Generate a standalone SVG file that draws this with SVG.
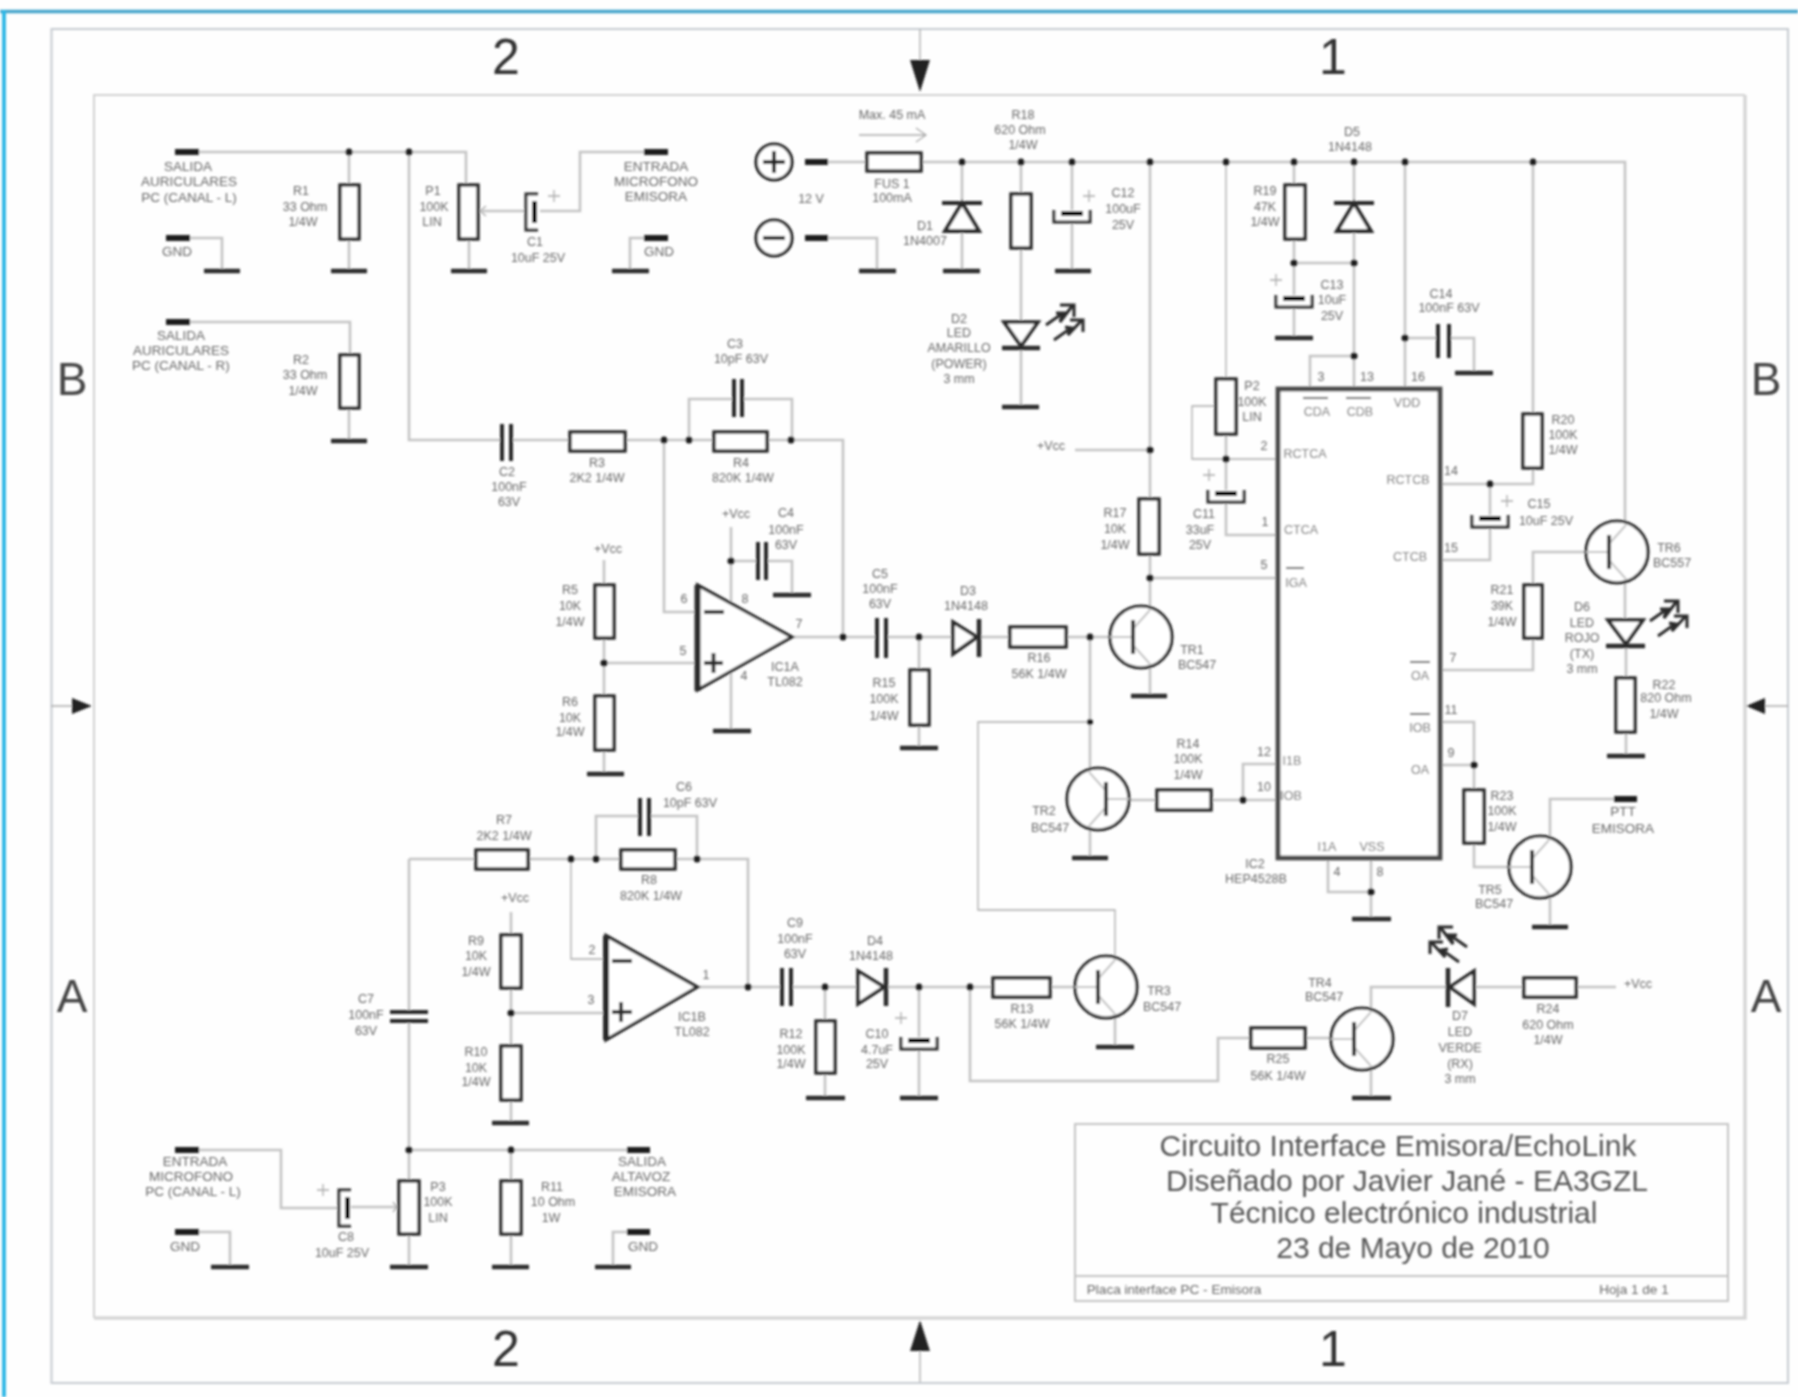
<svg xmlns="http://www.w3.org/2000/svg" width="1798" height="1397" viewBox="0 0 1798 1397">
<style>
text{font-family:"Liberation Sans",Arial,sans-serif;text-anchor:middle;dominant-baseline:central;fill:#666;font-size:12.5px}
.c{font-size:13.5px}
.big{font-size:50px;fill:#333}
.let{font-size:46px;fill:#444}
.ti{font-size:30px;fill:#555}
.f{font-size:13.6px}
.w{fill:none;stroke:#c4c4c4;stroke-width:2.6}
.wt{fill:none;stroke:#aaa;stroke-width:1.3}
.r{fill:#fff;stroke:#2a2a2a;stroke-width:3.4}
.g{fill:none;stroke:#2a2a2a;stroke-width:4.4}
.p{fill:none;stroke:#1a1a1a;stroke-width:6}
.s{fill:none;stroke:#2a2a2a;stroke-width:4}
.fr{fill:none;stroke:#c5cad0;stroke-width:2}
.d{fill:#1a1a1a}
.ah{fill:#222}
</style>
<defs>
<filter id="soft" filterUnits="userSpaceOnUse" x="0" y="0" width="1798" height="1397"><feGaussianBlur stdDeviation="0.85"/></filter>
<g id="q"><circle r="31" fill="#fff" stroke="#2a2a2a" stroke-width="3.2"/><path d="M-31 0H-8M-8 -8L9 -27M-8 8L9 27" fill="none" stroke="#c4c4c4" stroke-width="2"/><line x1="-8" y1="-17" x2="-8" y2="17" stroke="#2a2a2a" stroke-width="4"/></g>
<g id="ec"><path d="M-18 -6V6H18V-6" fill="#fff" stroke="#2a2a2a" stroke-width="3"/><rect x="-11" y="-5" width="22" height="5" fill="#111"/></g>
<g id="la"><path d="M0 21L17 9L10 9M17 9L14 18L27 1M14 1H28V13M8 36L25 24L19 23M25 24L22 31L36 16M24 16H37V28" fill="none" stroke="#2a2a2a" stroke-width="3"/></g>
<path id="dd" d="M-20 0H20M0 0L-17 28H17Z" fill="#fff" stroke="#2a2a2a" stroke-width="3.800"/>
</defs>
<rect width="1798" height="1397" fill="#fefefe"/>
<g filter="url(#soft)">
<g id="frame">
<path d="M0 11.500H1798" stroke="#45a5cc" stroke-width="3.500"/>
<path d="M4 10V1397" stroke="#2cb5e5" stroke-width="3.800"/>
<rect class="fr" x="51.500" y="29" width="1736.500" height="1354"/>
<path d="M94 1318V95H1745" fill="none" stroke="#d2d2d2" stroke-width="2"/>
<path d="M94 1318H1745V95" fill="none" stroke="#d6d6d6" stroke-width="3.500"/>
<text class="big" x="506" y="57">2</text><text class="big" x="1333" y="57">1</text>
<text class="big" x="506" y="1349">2</text><text class="big" x="1333" y="1349">1</text>
<text class="let" x="72" y="379">B</text><text class="let" x="1766" y="379">B</text>
<text class="let" x="72" y="996">A</text><text class="let" x="1766" y="996">A</text>
<path class="wt" d="M920 29V70M920 1340V1382M51 706H80M1756 706H1788"/>
<path class="ah" d="M910 60H930L920 92ZM910 1351H930L920 1320ZM72 698V714L92 706ZM1765 698V714L1746 706Z"/>
</g>
<g id="connectors">
<path class="w" d="M199 152H466V185M349 152V185M349 239V271M469 239V271M409 152V440H502M511 440H570M625 440H714M767 440H843V637H877M886 637H953M978 637H1010M1066 637H1109"/>
<path class="w" d="M482 211H527M540 211H580V152H644M190 238H222V271M644 238H630V271M190 322H350V355M349 408V441"/>
<path class="w" d="M689 440V399H734M742 399H792V440M664 440V612H697M604 663H697M604 560V585M604 638V696M604 750V774M731 527V603M731 672V731M731 561H757M765 561H792V595M792 637H843"/>
<path class="w" d="M828 162H867M921 162H1625V521M828 238H877V271M962 162V271M1021 162V194M1021 248V407M1072 162V271M1150 162V499M1075 450H1150M1150 554V612M1150 578H1277M1150 662V696M1294 162V185M1294 239V297M1294 307V338M1294 263H1354M1354 162V389M1354 356H1310V389M1405 162V389M1405 338H1438M1449 338H1474V373M1533 162V414M1533 468V484H1440M1490 484V516M1490 528V560H1440"/>
<path class="wt" d="M1226 162V379M1216 406H1192V459H1277"/>
<path class="w" d="M1226 434V492M1226 502V535H1277"/>
<path class="w" d="M1585 552H1533V585M1533 638V670H1440M1625 583V620M1626 646V678M1626 732V756"/>
<path class="w" d="M919 637V670M919 725V748"/>
<path class="wt" d="M1090 722H978V910H1115V956"/>
<path class="w" d="M1090 637V768M1090 830V858M1129 800H1157M1211 800H1277M1243 800V764H1277"/>
<path class="w" d="M1440 722H1474V790M1440 765H1474M1474 843V867H1510M1550 836V799H1614M1550 898V927M1328 858V892H1371M1371 858V919"/>
<path class="w" d="M409 859H476M528 859H621M675 859H748V987M596 859V816H640M649 816H697V859M409 859V1012M409 1021V1181M409 1234V1267M199 1150H281V1208H339M351 1207H396M409 1150H627"/>
<path class="wt" d="M571 859V959H606"/>
<path class="w" d="M511 912V935M511 988V1046M511 1013H606M511 1100V1123M511 1150V1181M511 1234V1267M199 1232H230V1267M627 1232H613V1267M698 987H782M791 987H858M886 987H993M825 987V1021M825 1073V1098M919 987V1038M919 1049V1098M1050 987H1075M970 987V1081H1218V1038H1251M1305 1038H1331M1371 1008V987H1448M1474 987H1524M1576 987H1616M1115 1018V1047M1371 1070V1098"/>
</g>
<g id="junctions">
<circle class="d" cx="349" cy="152" r="3.500"/><circle class="d" cx="409" cy="152" r="3.500"/><circle class="d" cx="664" cy="440" r="3.500"/><circle class="d" cx="689" cy="440" r="3.500"/><circle class="d" cx="791" cy="440" r="3.500"/><circle class="d" cx="843" cy="637" r="3.500"/><circle class="d" cx="731" cy="561" r="3.500"/><circle class="d" cx="604" cy="663" r="3.500"/><circle class="d" cx="919" cy="637" r="3.500"/><circle class="d" cx="1090" cy="637" r="3.500"/><circle class="d" cx="1090" cy="722" r="3"/>
<circle class="d" cx="962" cy="162" r="3.500"/><circle class="d" cx="1021" cy="162" r="3.500"/><circle class="d" cx="1072" cy="162" r="3.500"/><circle class="d" cx="1150" cy="162" r="3.500"/><circle class="d" cx="1226" cy="162" r="3.500"/><circle class="d" cx="1294" cy="162" r="3.500"/><circle class="d" cx="1354" cy="162" r="3.500"/><circle class="d" cx="1405" cy="162" r="3.500"/><circle class="d" cx="1533" cy="162" r="3.500"/>
<circle class="d" cx="1150" cy="450" r="3.500"/><circle class="d" cx="1150" cy="578" r="3.500"/><circle class="d" cx="1226" cy="459" r="3.500"/><circle class="d" cx="1294" cy="263" r="3.500"/><circle class="d" cx="1354" cy="263" r="3.500"/><circle class="d" cx="1354" cy="356" r="3.500"/><circle class="d" cx="1405" cy="338" r="3.500"/><circle class="d" cx="1490" cy="484" r="3.500"/><circle class="d" cx="1243" cy="800" r="3.500"/><circle class="d" cx="1474" cy="765" r="3.500"/><circle class="d" cx="1371" cy="892" r="3.500"/>
<circle class="d" cx="571" cy="859" r="3.500"/><circle class="d" cx="596" cy="859" r="3.500"/><circle class="d" cx="697" cy="859" r="3.500"/><circle class="d" cx="748" cy="987" r="3.500"/><circle class="d" cx="511" cy="1013" r="3.500"/><circle class="d" cx="409" cy="1150" r="3.500"/><circle class="d" cx="511" cy="1150" r="3.500"/><circle class="d" cx="825" cy="987" r="3.500"/><circle class="d" cx="919" cy="987" r="3.500"/><circle class="d" cx="970" cy="987" r="3.500"/>
</g>
<g id="grounds">
<path class="g" d="M204 271h36M331 271h36M451 271h36M612 271h37M331 441h36M773 595h38M713 731h38M587 774h37M859 271h37M943 271h37M1002 407h37M1055 271h36M1275 338h38M1455 373h38M1131 696h36M900 748h38M1607 756h38M1072 858h36M1352 919h39M1532 927h36M1096 1047h38M806 1098h39M900 1098h38M1352 1098h39M492 1123h37M211 1267h38M390 1267h38M492 1267h37M595 1267h36"/>
</g>
<g id="J1"><path class="p" d="M175 152h24"/><text class="c" x="188" y="166">SALIDA</text><text class="c" x="189" y="181">AURICULARES</text><text class="c" x="189" y="197">PC (CANAL - L)</text></g>
<g id="GND1"><path class="p" d="M166 238h24"/><text class="c" x="177" y="251">GND</text></g>
<g id="J2"><path class="p" d="M166 322h24"/><text class="c" x="181" y="335">SALIDA</text><text class="c" x="181" y="350">AURICULARES</text><text class="c" x="181" y="365">PC (CANAL - R)</text></g>
<g id="J3"><path class="p" d="M644 152h24"/><text class="c" x="656" y="166">ENTRADA</text><text class="c" x="656" y="181">MICROFONO</text><text class="c" x="656" y="196">EMISORA</text></g>
<g id="GND2"><path class="p" d="M644 238h24"/><text class="c" x="659" y="251">GND</text></g>
<g id="J4"><path class="p" d="M175 1150h24"/><text class="c" x="195" y="1161">ENTRADA</text><text class="c" x="191" y="1176">MICROFONO</text><text class="c" x="193" y="1191">PC (CANAL - L)</text></g>
<g id="GND3"><path class="p" d="M175 1232h24"/><text class="c" x="185" y="1246">GND</text></g>
<g id="J5"><path class="p" d="M627 1150h23"/><text class="c" x="642" y="1161">SALIDA</text><text class="c" x="641" y="1176">ALTAVOZ</text><text class="c" x="645" y="1191">EMISORA</text></g>
<g id="GND4"><path class="p" d="M627 1232h23"/><text class="c" x="643" y="1246">GND</text></g>
<g id="PTT"><path class="p" d="M1614 799h23"/><text class="c" x="1623" y="811">PTT</text><text class="c" x="1623" y="828">EMISORA</text></g>
<g id="R1"><rect class="r" x="340" y="185" width="19" height="54"/><text x="301" y="191">R1</text><text x="305" y="207">33 Ohm</text><text x="303" y="222">1/4W</text></g>
<g id="R2"><rect class="r" x="340" y="355" width="19" height="53"/><text x="301" y="360">R2</text><text x="305" y="375">33 Ohm</text><text x="303" y="391">1/4W</text></g>
<g id="P1"><rect class="r" x="459" y="185" width="19" height="54"/><path class="wt" d="M486 206L480 211L486 216"/><text x="433" y="191">P1</text><text x="434" y="207">100K</text><text x="432" y="222">LIN</text></g>
<g id="C1"><use href="#ec" transform="translate(532 212) rotate(90)"/><path class="wt" d="M548 196h12M554 190v12"/><text x="535" y="242">C1</text><text x="538" y="258">10uF 25V</text></g>
<g id="C2"><path class="s" d="M502 424V461M511 424V461"/><text x="507" y="472">C2</text><text x="509" y="487">100nF</text><text x="509" y="502">63V</text></g>
<g id="R3"><rect class="r" x="570" y="432" width="55" height="19"/><text x="597" y="463">R3</text><text x="597" y="478">2K2 1/4W</text></g>
<g id="R4"><rect class="r" x="714" y="432" width="53" height="19"/><text x="741" y="463">R4</text><text x="743" y="478">820K 1/4W</text></g>
<g id="C3"><path class="s" d="M734 379V417M742 379V417"/><text x="735" y="344">C3</text><text x="741" y="359">10pF 63V</text></g>
<g id="IC1A"><path d="M697.500 585L792 637L697.500 690Z" fill="#fff" stroke="#2a2a2a" stroke-width="3.200"/><path d="M697.500 585V691" stroke="#2a2a2a" stroke-width="6"/><path d="M704 612H724M704 663H723M713.500 653V673" stroke="#2a2a2a" stroke-width="3.800"/><text x="684" y="599">6</text><text x="745" y="599">8</text><text x="799" y="624">7</text><text x="683" y="651">5</text><text x="744" y="676">4</text><text x="785" y="667">IC1A</text><text x="785" y="682">TL082</text><text x="736" y="514">+Vcc</text></g>
<g id="C4"><path class="s" d="M758 542V580M766 542V580"/><text x="786" y="513">C4</text><text x="786" y="530">100nF</text><text x="786" y="545">63V</text></g>
<g id="R5"><rect class="r" x="595" y="585" width="19" height="53"/><text x="608" y="549">+Vcc</text><text x="570" y="590">R5</text><text x="570" y="606">10K</text><text x="570" y="622">1/4W</text></g>
<g id="R6"><rect class="r" x="595" y="696" width="19" height="54"/><text x="570" y="702">R6</text><text x="570" y="718">10K</text><text x="570" y="732">1/4W</text></g>
<g id="C5"><path class="s" d="M877 618V658M886 618V658"/><text x="880" y="574">C5</text><text x="880" y="589">100nF</text><text x="880" y="604">63V</text></g>
<g id="R15"><rect class="r" x="910" y="670" width="19" height="55"/><text x="884" y="683">R15</text><text x="884" y="699">100K</text><text x="884" y="716">1/4W</text></g>
<g id="D3"><path d="M953 622L977 637L953 654Z" fill="#fff" stroke="#2a2a2a" stroke-width="3.600"/><path d="M979 619V657" stroke="#2a2a2a" stroke-width="4.500"/><text x="968" y="591">D3</text><text x="966" y="606">1N4148</text></g>
<g id="R16"><rect class="r" x="1010" y="627" width="56" height="20"/><text x="1039" y="658">R16</text><text x="1039" y="674">56K 1/4W</text></g>
<g id="TR1"><use href="#q" x="1141" y="637"/><text x="1192" y="650">TR1</text><text x="1197" y="665">BC547</text></g>
<g id="TR2"><use href="#q" transform="translate(1098 799) scale(-1 1)"/><text x="1044" y="811">TR2</text><text x="1050" y="828">BC547</text></g>
<g id="R14"><rect class="r" x="1157" y="790" width="54" height="20"/><text x="1188" y="744">R14</text><text x="1188" y="759">100K</text><text x="1188" y="775">1/4W</text></g>
<g id="BT"><circle cx="774" cy="162" r="18" fill="#fff" stroke="#222" stroke-width="3.200"/><path d="M763 162H785M774 151V173" stroke="#222" stroke-width="4"/><circle cx="774" cy="238" r="18" fill="#fff" stroke="#222" stroke-width="3.200"/><path d="M763 238H785" stroke="#222" stroke-width="4"/><path class="p" d="M805 162h23M805 238h23"/><text x="811" y="199">12 V</text></g>
<g id="F1"><rect class="r" x="867" y="153" width="54" height="18"/><path class="wt" d="M859 135H926M916 128L926 135L916 142"/><text x="892" y="115">Max. 45 mA</text><text x="892" y="184">FUS 1</text><text x="892" y="198">100mA</text></g>
<g id="D1"><use href="#dd" x="962" y="203"/><text x="925" y="226">D1</text><text x="925" y="241">1N4007</text></g>
<g id="R18"><rect class="r" x="1011" y="194" width="20" height="54"/><text x="1023" y="115">R18</text><text x="1020" y="130">620 Ohm</text><text x="1023" y="145">1/4W</text></g>
<g id="C12"><use href="#ec" x="1072" y="216"/><path class="wt" d="M1083 196h12M1089 190v12"/><text x="1123" y="193">C12</text><text x="1123" y="209">100uF</text><text x="1123" y="225">25V</text></g>
<g id="D2"><path d="M1004 322H1038L1021 346Z" fill="#fff" stroke="#2a2a2a" stroke-width="3.600"/><path d="M1002 348H1040" stroke="#2a2a2a" stroke-width="4.400"/><use href="#la" x="1046" y="304"/><text x="959" y="319">D2</text><text x="959" y="333">LED</text><text x="959" y="348">AMARILLO</text><text x="959" y="364">(POWER)</text><text x="959" y="379">3 mm</text></g>
<g id="R17"><rect class="r" x="1139" y="499" width="20" height="55"/><text x="1051" y="446">+Vcc</text><text x="1115" y="513">R17</text><text x="1115" y="529">10K</text><text x="1115" y="545">1/4W</text></g>
<g id="R19"><rect class="r" x="1285" y="185" width="20" height="54"/><text x="1265" y="191">R19</text><text x="1265" y="207">47K</text><text x="1265" y="222">1/4W</text></g>
<g id="D5"><use href="#dd" x="1354" y="203"/><text x="1352" y="132">D5</text><text x="1350" y="147">1N4148</text></g>
<g id="C13"><use href="#ec" x="1294" y="301"/><path class="wt" d="M1270 280h12M1276 274v12"/><text x="1332" y="285">C13</text><text x="1332" y="300">10uF</text><text x="1332" y="316">25V</text></g>
<g id="C14"><path class="s" d="M1438 324V358M1449 324V358"/><text x="1441" y="294">C14</text><text x="1449" y="308">100nF 63V</text></g>
<g id="P2"><rect class="r" x="1216" y="379" width="20" height="55"/><text x="1252" y="386">P2</text><text x="1252" y="402">100K</text><text x="1252" y="417">LIN</text></g>
<g id="C11"><use href="#ec" x="1226" y="496"/><path class="wt" d="M1203 475h12M1209 469v12"/><text x="1204" y="514">C11</text><text x="1200" y="530">33uF</text><text x="1200" y="545">25V</text></g>
<g id="IC2"><rect x="1278" y="389" width="162" height="469" fill="#fff" stroke="#4a4a4a" stroke-width="4.800"/>
<path d="M1303 398H1328M1346 398H1371M1286 568H1304M1410 662H1430M1410 714H1430" fill="none" stroke="#555" stroke-width="2"/>
<text x="1317" y="412">CDA</text><text x="1360" y="412">CDB</text><text x="1407" y="403">VDD</text><text x="1305" y="454">RCTCA</text><text x="1301" y="530">CTCA</text><text x="1296" y="583">IGA</text><text x="1408" y="480">RCTCB</text><text x="1410" y="557">CTCB</text><text x="1420" y="676">OA</text><text x="1420" y="728">IOB</text><text x="1420" y="770">OA</text><text x="1292" y="761">I1B</text><text x="1291" y="796">IOB</text><text x="1327" y="847">I1A</text><text x="1372" y="847">VSS</text>
<text x="1321" y="377">3</text><text x="1367" y="377">13</text><text x="1418" y="377">16</text><text x="1264" y="446">2</text><text x="1265" y="522">1</text><text x="1264" y="565">5</text><text x="1451" y="471">14</text><text x="1451" y="548">15</text><text x="1453" y="658">7</text><text x="1451" y="710">11</text><text x="1451" y="753">9</text><text x="1264" y="752">12</text><text x="1264" y="787">10</text><text x="1337" y="872">4</text><text x="1380" y="872">8</text><text x="1255" y="864">IC2</text><text x="1256" y="879">HEP4528B</text></g>
<g id="R20"><rect class="r" x="1523" y="414" width="19" height="54"/><text x="1563" y="420">R20</text><text x="1563" y="435">100K</text><text x="1563" y="450">1/4W</text></g>
<g id="C15"><use href="#ec" x="1490" y="521"/><path class="wt" d="M1501 501h12M1507 495v12"/><text x="1539" y="504">C15</text><text x="1546" y="521">10uF 25V</text></g>
<g id="TR6"><use href="#q" x="1617" y="552"/><text x="1669" y="548">TR6</text><text x="1672" y="563">BC557</text></g>
<g id="R21"><rect class="r" x="1524" y="585" width="18" height="53"/><text x="1502" y="590">R21</text><text x="1502" y="606">39K</text><text x="1502" y="622">1/4W</text></g>
<g id="D6"><path d="M1608 620H1643L1626 644Z" fill="#fff" stroke="#2a2a2a" stroke-width="3.600"/><path d="M1606 646H1645" stroke="#2a2a2a" stroke-width="4.400"/><use href="#la" x="1650" y="600"/><text x="1582" y="607">D6</text><text x="1582" y="623">LED</text><text x="1582" y="638">ROJO</text><text x="1582" y="654">(TX)</text><text x="1582" y="669">3 mm</text></g>
<g id="R22"><rect class="r" x="1616" y="678" width="19" height="54"/><text x="1664" y="685">R22</text><text x="1666" y="698">820 Ohm</text><text x="1664" y="714">1/4W</text></g>
<g id="R23"><rect class="r" x="1464" y="790" width="20" height="53"/><text x="1502" y="796">R23</text><text x="1502" y="811">100K</text><text x="1502" y="827">1/4W</text></g>
<g id="TR5"><use href="#q" x="1540" y="867"/><text x="1490" y="890">TR5</text><text x="1494" y="904">BC547</text></g>
<g id="R7"><rect class="r" x="476" y="850" width="52" height="19"/><text x="504" y="820">R7</text><text x="504" y="836">2K2 1/4W</text></g>
<g id="R8"><rect class="r" x="621" y="850" width="54" height="19"/><text x="649" y="880">R8</text><text x="651" y="896">820K 1/4W</text></g>
<g id="C6"><path class="s" d="M640 798V836M649 798V836"/><text x="684" y="787">C6</text><text x="690" y="803">10pF 63V</text></g>
<g id="IC1B"><path d="M606 935.500L697.500 987L606 1040Z" fill="#fff" stroke="#2a2a2a" stroke-width="3.200"/><path d="M606 935.500V1040" stroke="#2a2a2a" stroke-width="6"/><path d="M612 961H632M612 1012H632M621 1002V1022" stroke="#2a2a2a" stroke-width="3.800"/><text x="592" y="950">2</text><text x="591" y="1000">3</text><text x="706" y="975">1</text><text x="692" y="1017">IC1B</text><text x="692" y="1032">TL082</text></g>
<g id="R9"><rect class="r" x="501" y="935" width="20" height="53"/><text x="515" y="898">+Vcc</text><text x="476" y="941">R9</text><text x="476" y="956">10K</text><text x="476" y="972">1/4W</text></g>
<g id="R10"><rect class="r" x="501" y="1046" width="20" height="54"/><text x="476" y="1052">R10</text><text x="476" y="1068">10K</text><text x="476" y="1082">1/4W</text></g>
<g id="C7"><path class="s" d="M390 1012H428M390 1021H428"/><text x="366" y="999">C7</text><text x="366" y="1015">100nF</text><text x="366" y="1031">63V</text></g>
<g id="C8"><use href="#ec" transform="translate(345 1208) rotate(90)"/><path class="wt" d="M317 1190h12M323 1184v12"/><text x="346" y="1237">C8</text><text x="342" y="1253">10uF 25V</text></g>
<g id="P3"><rect class="r" x="399" y="1181" width="20" height="53"/><path class="wt" d="M393 1202L397 1207L393 1212"/><text x="438" y="1187">P3</text><text x="438" y="1202">100K</text><text x="438" y="1218">LIN</text></g>
<g id="R11"><rect class="r" x="501" y="1181" width="20" height="53"/><text x="552" y="1187">R11</text><text x="553" y="1202">10 Ohm</text><text x="551" y="1218">1W</text></g>
<g id="C9"><path class="s" d="M782 968V1006M791 968V1006"/><text x="795" y="923">C9</text><text x="795" y="939">100nF</text><text x="795" y="954">63V</text></g>
<g id="R12"><rect class="r" x="816" y="1021" width="19" height="52"/><text x="791" y="1034">R12</text><text x="791" y="1050">100K</text><text x="791" y="1064">1/4W</text></g>
<g id="D4"><path d="M858 971L884 987L858 1004Z" fill="#fff" stroke="#2a2a2a" stroke-width="3.600"/><path d="M886 968V1006" stroke="#2a2a2a" stroke-width="4.500"/><text x="875" y="941">D4</text><text x="871" y="956">1N4148</text></g>
<g id="C10"><use href="#ec" x="919" y="1043"/><path class="wt" d="M895 1018h12M901 1012v12"/><text x="877" y="1034">C10</text><text x="877" y="1050">4.7uF</text><text x="877" y="1064">25V</text></g>
<g id="R13"><rect class="r" x="993" y="978" width="57" height="19"/><text x="1022" y="1009">R13</text><text x="1022" y="1024">56K 1/4W</text></g>
<g id="TR3"><use href="#q" x="1106" y="987"/><text x="1159" y="991">TR3</text><text x="1162" y="1007">BC547</text></g>
<g id="R25"><rect class="r" x="1251" y="1028" width="54" height="20"/><text x="1278" y="1059">R25</text><text x="1278" y="1076">56K 1/4W</text></g>
<g id="TR4"><use href="#q" x="1362" y="1039"/><text x="1320" y="983">TR4</text><text x="1324" y="997">BC547</text></g>
<g id="D7"><path d="M1474 971L1450 987L1474 1004Z" fill="#fff" stroke="#2a2a2a" stroke-width="3.600"/><path d="M1448 968V1007" stroke="#2a2a2a" stroke-width="4.500"/><use href="#la" transform="translate(1467 926) scale(-1 1)"/><text x="1460" y="1016">D7</text><text x="1460" y="1032">LED</text><text x="1460" y="1048">VERDE</text><text x="1460" y="1064">(RX)</text><text x="1460" y="1079">3 mm</text></g>
<g id="R24"><rect class="r" x="1524" y="978" width="52" height="19"/><text x="1638" y="984">+Vcc</text><text x="1548" y="1009">R24</text><text x="1548" y="1025">620 Ohm</text><text x="1548" y="1040">1/4W</text></g>
<g id="title"><rect x="1075" y="1124" width="653" height="177" fill="none" stroke="#c4c4c4" stroke-width="2"/><path d="M1075 1276H1728" stroke="#c4c4c4" stroke-width="2"/>
<text class="ti" x="1398" y="1145">Circuito Interface Emisora/EchoLink</text><text class="ti" x="1407" y="1180">Diseñado por Javier Jané - EA3GZL</text><text class="ti" x="1404" y="1212">Técnico electrónico industrial</text><text class="ti" x="1413" y="1247">23 de Mayo de 2010</text>
<text class="f" x="1174" y="1289">Placa interface PC - Emisora</text><text class="f" x="1634" y="1289">Hoja 1 de 1</text></g>
</g>
</svg>
